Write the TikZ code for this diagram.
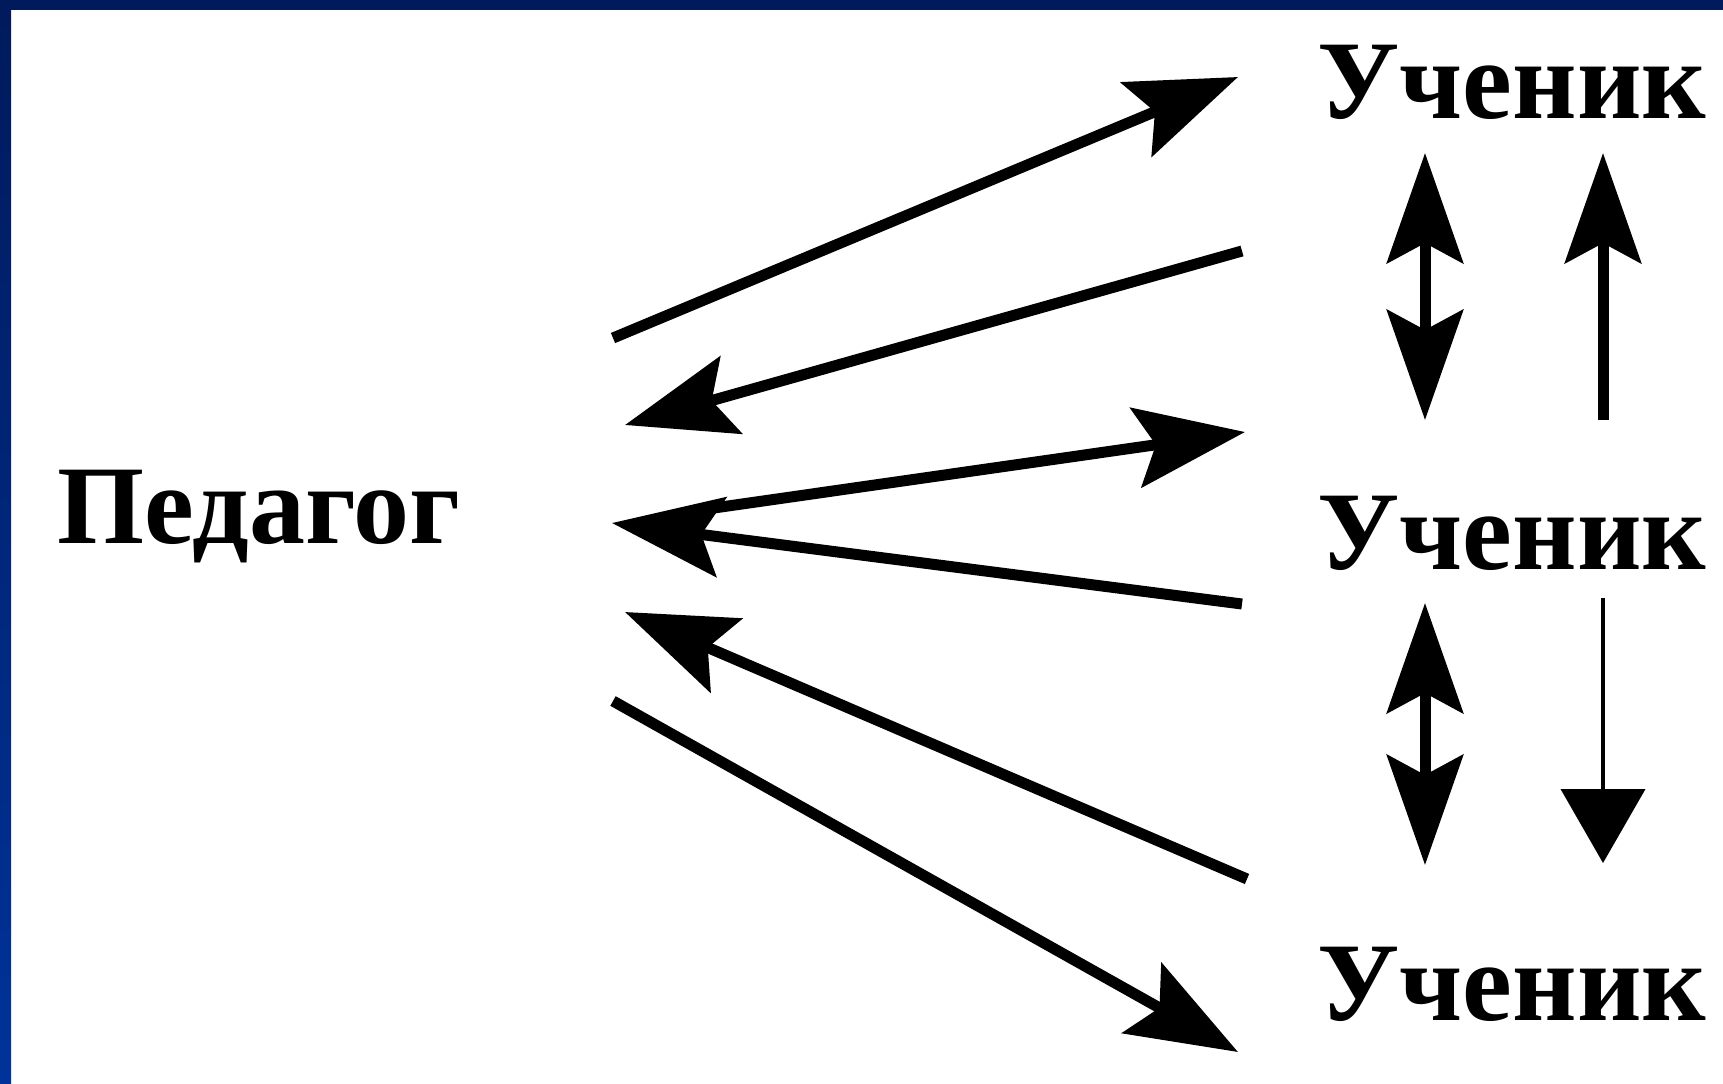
\documentclass[tikz,border=0pt]{standalone}
\usepackage{fontspec}
\setmainfont{Liberation Serif}
\usetikzlibrary{arrows.meta}
\definecolor{navytop}{RGB}{0,26,92}
\definecolor{navybot}{RGB}{0,51,153}
\tikzset{
  lbl/.style={inner sep=0pt, anchor=base west, font=\fontsize{56pt}{60pt}\selectfont\bfseries},
  conn/.style={line width=5.5pt, -{Stealth[length=55pt,width=40pt,inset=10pt]}},
  dconn/.style={line width=5.5pt, {Stealth[length=55pt,width=38pt,inset=10pt]}-{Stealth[length=55pt,width=38pt,inset=10pt]}},
  vconn/.style={line width=5.5pt, -{Stealth[length=55pt,width=38pt,inset=10pt]}},
  thinconn/.style={line width=2pt, -{Triangle[length=37pt,width=42pt]}}
}
\begin{document}
\begin{tikzpicture}[x=0.5pt,y=-0.5pt]
\useasboundingbox (0,0) rectangle (1723,1083);
\fill[white] (0,0) rectangle (1723,1083);
\shade[top color=navytop, bottom color=navybot] (0,0) rectangle (11,1083);
\fill[navytop] (0,0) rectangle (1723,10);
% texts
\node[lbl] (ped) at (57,543) {Педагог};
\node[lbl] (u1) at (1317,118) {Ученик};
\node[lbl] (u2) at (1317,569) {Ученик};
\node[lbl] (u3) at (1317,1020) {Ученик};
% coordinates of arrow ends
\coordinate (a1s) at (613,338);  \coordinate (a1e) at (1238,77);
\coordinate (a2s) at (1242,251); \coordinate (a2e) at (625,425);
\coordinate (a3s) at (700,510);  \coordinate (a3e) at (1245,432);
\coordinate (a4s) at (1242,604); \coordinate (a4e) at (612,523);
\coordinate (a5s) at (1247,879); \coordinate (a5e) at (625,612);
\coordinate (a6s) at (613,701);  \coordinate (a6e) at (1238,1052);
\coordinate (v1t) at (1425,153); \coordinate (v1b) at (1425,420);
\coordinate (v2t) at (1603,153); \coordinate (v2b) at (1603,420);
\coordinate (v3t) at (1425,603); \coordinate (v3b) at (1425,865);
\coordinate (v4t) at (1603,598); \coordinate (v4b) at (1603,863);
% arrows
\draw[conn] (a1s) -- (a1e);
\draw[conn] (a2s) -- (a2e);
\draw[conn] (a3s) -- (a3e);
\draw[conn] (a4s) -- (a4e);
\draw[conn] (a5s) -- (a5e);
\draw[conn] (a6s) -- (a6e);
\draw[dconn] (v1t) -- (v1b);
\draw[vconn] (v2b) -- (v2t);
\draw[dconn] (v3t) -- (v3b);
\draw[thinconn] (v4t) -- (v4b);
\end{tikzpicture}
\end{document}
